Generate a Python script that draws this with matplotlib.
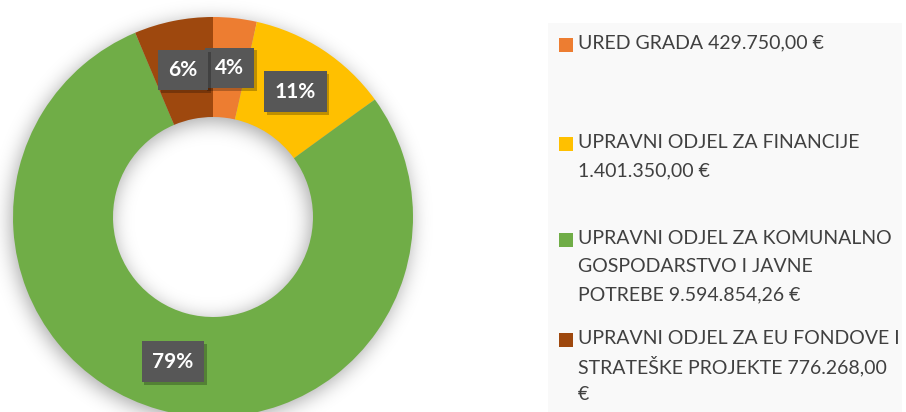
import numpy as np
import matplotlib
matplotlib.use("Agg")
import matplotlib.pyplot as plt
import matplotlib.patheffects as pe
from matplotlib.patches import Rectangle

# ---- data ----
labels = [
    "URED GRADA 429.750,00 €",
    "UPRAVNI ODJEL ZA FINANCIJE\n1.401.350,00 €",
    "UPRAVNI ODJEL ZA KOMUNALNO\nGOSPODARSTVO I JAVNE\nPOTREBE 9.594.854,26 €",
    "UPRAVNI ODJEL ZA EU FONDOVE I\nSTRATEŠKE PROJEKTE 776.268,00\n€",
]
values = [429750.00, 1401350.00, 9594854.26, 776268.00]
colors = ["#ED7D31", "#FFC000", "#70AD47", "#9E480E"]

W, H = 906, 412
fig = plt.figure(figsize=(W / 100, H / 100), dpi=100)
fig.patch.set_facecolor("white")

# legend background panel
fig.patches.append(Rectangle((548 / W, 0), (902 - 548) / W, (412 - 23) / H,
                             transform=fig.transFigure, facecolor="#F9F9F9",
                             edgecolor="none", zorder=0))

# pie axes: centre at (213, 217 from top), outer radius 200 px
half = 240
cx, cy = 213, H - 217
ax = fig.add_axes([(cx - half) / W, (cy - half) / H, 2 * half / W, 2 * half / H])
ax.set_xlim(-1.2, 1.2)
ax.set_ylim(-1.2, 1.2)
ax.set_aspect("equal")
ax.axis("off")

# soft shadow of the ring
n = 480
g = np.linspace(-1.2, 1.2, n)
X, Y = np.meshgrid(g, g)
R = np.hypot(X + 0.01, Y + 0.02)
mask = ((R <= 1.0) & (R >= 0.5)).astype(float)
sig = 10.0
k = np.arange(-40, 41)
ker = np.exp(-k ** 2 / (2 * sig ** 2))
ker /= ker.sum()
bl = np.apply_along_axis(lambda r: np.convolve(r, ker, mode="same"), 1, mask)
bl = np.apply_along_axis(lambda c: np.convolve(c, ker, mode="same"), 0, bl)
rgba = np.zeros((n, n, 4))
rgba[..., 3] = bl * 0.36
ax.imshow(rgba, extent=(-1.2, 1.2, -1.2, 1.2), origin="lower", zorder=0,
          interpolation="bilinear")

wedges, texts, autotexts = ax.pie(
    values, colors=colors, startangle=90, counterclock=False, radius=1.0,
    wedgeprops=dict(width=0.5, edgecolor="none"),
    autopct="%1.0f%%", pctdistance=0.75,
    textprops=dict(color="white", fontsize=15, fontweight="bold", family="Lato"),
)
for w in wedges:
    w.set_zorder(2)
ax.set_xlim(-1.2, 1.2)
ax.set_ylim(-1.2, 1.2)
for t in autotexts:
    t.set_zorder(5)
    t.set_bbox(dict(boxstyle="square,pad=0.5", facecolor="#575757", edgecolor="none"))
    t.get_bbox_patch().set_path_effects(
        [pe.SimplePatchShadow(offset=(2, -2), shadow_rgbFace="black", alpha=0.25), pe.Normal()])

# legend
line_px = 28.5
first_y = [43, 142, 238, 338]
for lab, col, y0 in zip(labels, colors, first_y):
    fig.patches.append(Rectangle((559 / W, (H - y0 - 9) / H), 14 / W, 14 / H,
                                 transform=fig.transFigure, facecolor=col,
                                 edgecolor="none", zorder=3))
    for i, line in enumerate(lab.split("\n")):
        fig.text(578 / W, (H - (y0 + i * line_px)) / H, line, ha="left", va="center",
                 fontsize=14, color="#404040", family="Lato")

fig.savefig("out.png", dpi=100)
